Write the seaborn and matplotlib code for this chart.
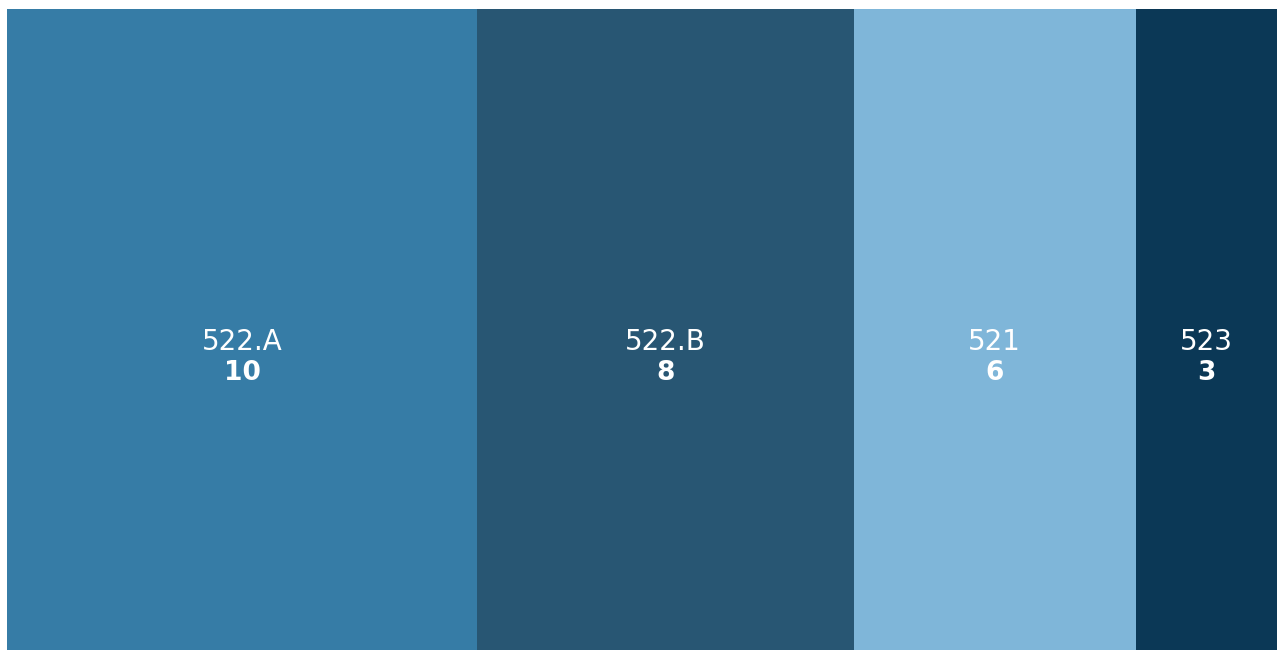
import matplotlib
matplotlib.use("Agg")
import matplotlib.pyplot as plt
import matplotlib.transforms as mtransforms
import numpy as np
import pandas as pd
import seaborn as sns

categories = ["522.A", "522.B", "521", "523"]
values = [10, 8, 6, 3]
colors = ["#367CA6", "#285673", "#7FB6D9", "#0B3856"]

sns.set_theme(style="white")
plt.rcParams["font.family"] = ["DejaVu Sans"]

W, H = 1277, 650
fig = plt.figure(figsize=(W / 100, H / 100), dpi=100)
ax = fig.add_axes([7 / W, 0, 1270 / W, 641 / H])

cum = np.cumsum(values)
df = pd.DataFrame({"cat": categories, "end": cum, "row": ["all"] * len(values)})
# draw largest cumulative first so smaller ones sit on top -> stacked look
df_draw = df.iloc[::-1].reset_index(drop=True)
for _, r in df_draw.iterrows():
    sns.barplot(data=pd.DataFrame([r]), x="end", y="row", orient="h",
                color=colors[categories.index(r["cat"])], width=1.0,
                saturation=1, ax=ax, errorbar=None, linewidth=0)

ax.set_xlim(0, cum[-1])
ax.set_ylim(0.5, -0.5)
ax.axis("off")

trans = mtransforms.blended_transform_factory(ax.transData, ax.transAxes)
starts = cum - np.array(values)
for c, v, s in zip(categories, values, starts):
    xc = s + v / 2
    ax.text(xc, 1 - (342 - 9) / 641, c, transform=trans, ha="center", va="center",
            color="white", fontsize=20)
    ax.text(xc, 1 - (373 - 9) / 641, str(v), transform=trans, ha="center", va="center",
            color="white", fontsize=19, fontweight="bold")

fig.savefig("out.png", dpi=100)
